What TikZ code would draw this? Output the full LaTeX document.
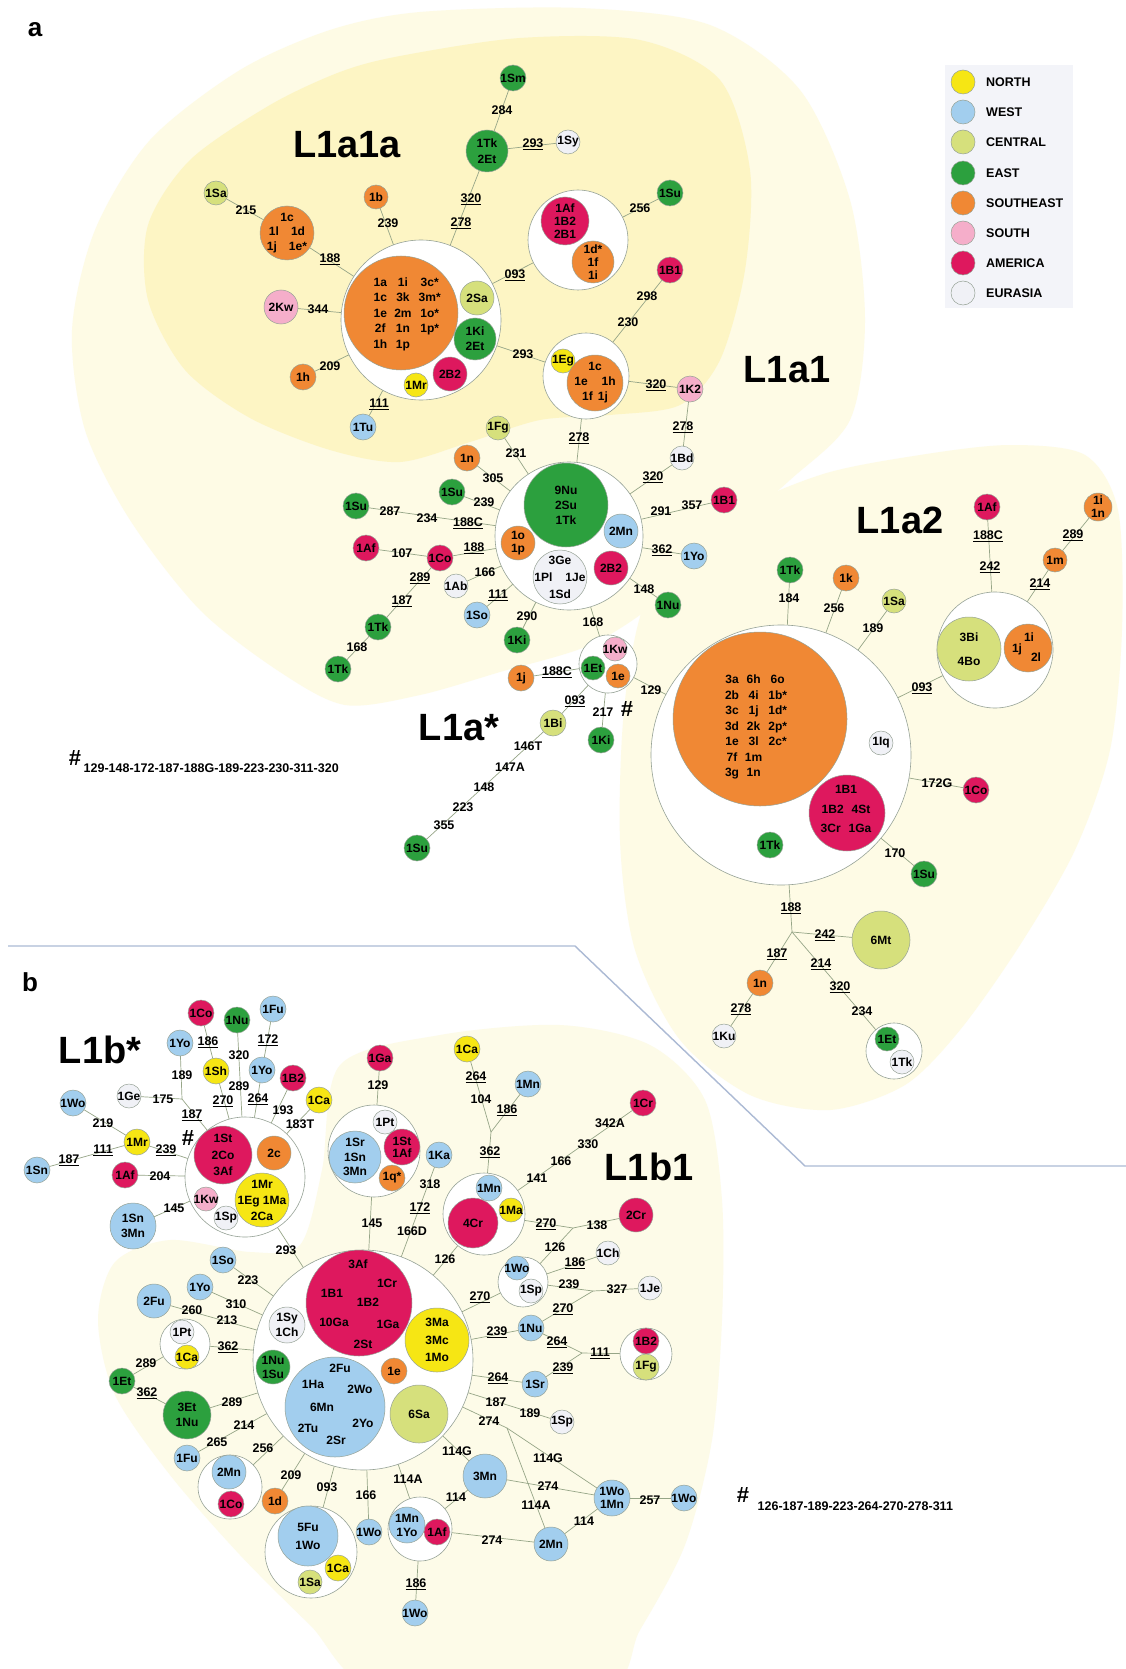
\documentclass[tikz,border=0pt]{standalone}
\usepackage{fontspec}
\setmainfont{Liberation Sans}
\pgfdeclarelayer{bg}
\pgfdeclarelayer{edges}
\pgfsetlayers{bg,edges,main}
\definecolor{cN}{RGB}{246,230,20}
\definecolor{cW}{RGB}{162,206,238}
\definecolor{cC}{RGB}{214,224,124}
\definecolor{cE}{RGB}{44,160,62}
\definecolor{cSE}{RGB}{240,136,52}
\definecolor{cS}{RGB}{245,174,202}
\definecolor{cA}{RGB}{222,24,94}
\definecolor{cEu}{RGB}{240,241,246}
\definecolor{edgeC}{RGB}{150,165,135}
\definecolor{ringC}{RGB}{150,162,150}
\definecolor{paleA}{RGB}{254,251,229}
\definecolor{deepA}{RGB}{253,245,196}
\definecolor{paleB}{RGB}{253,251,232}
\definecolor{sepC}{RGB}{172,186,212}
\definecolor{legbg}{RGB}{243,244,249}
\tikzset{
 hap/.style={circle, draw=ringC, line width=0.5pt, inner sep=0pt, outer sep=0pt},
 grp/.style={circle, draw=ringC, fill=white, line width=0.6pt, inner sep=0pt, outer sep=0pt},
 lbl/.style={inner sep=0pt, align=center, text=black},
 mut/.style={font=\fontsize{12.5}{13}\selectfont\bfseries, inner sep=0.5pt, text=black},
 edge/.style={draw=edgeC, line width=0.7pt},
 clade/.style={font=\fontsize{38}{38}\selectfont\bfseries, inner sep=0pt},
 txt/.style={font=\fontsize{12}{15.5}\selectfont\bfseries, inner sep=0pt, align=center},
 legt/.style={font=\fontsize{12.5}{13}\selectfont\bfseries, inner sep=0pt, anchor=west},
 hash/.style={font=\fontsize{22}{22}\selectfont\bfseries, inner sep=0pt},
}
\newcommand\hp[7][15]{\node[hap,fill=#6,minimum size=2*#5,label={[lbl,font=\fontsize{12}{#1}\selectfont\bfseries]center:{#7}}] (#2) at (#3,#4) {};}
\newcommand\gp[4]{\node[grp,minimum size=2*#4] (#1) at (#2,#3) {};}
\newcommand\mt[4]{\node[mut] (#1) at (#2,#3) {#4};}
\newcommand\um[1]{\underline{#1}}
\begin{document}
\begin{tikzpicture}[x=1pt,y=-1pt]
\useasboundingbox (0,0) rectangle (1126,1669);
\begin{pgfonlayer}{bg}
\fill[white] (0,0) rectangle (1126,1669);
\begin{scope}
\clip (0,0) rectangle (1126,1669);
\fill[paleA] plot[smooth cycle] coordinates {(420,12) (580,8) (710,25) (800,90) (850,200) (865,320) (850,420) (790,480) (720,540) (660,600) (590,645) (500,672) (420,695) (345,705) (280,672) (200,610) (130,520) (85,430) (72,330) (95,230) (150,140) (240,70) (330,30)};
\fill[paleA] plot[smooth cycle] coordinates {(650,590) (720,520) (820,475) (920,455) (1010,445) (1085,455) (1118,510) (1122,630) (1110,750) (1075,850) (1020,945) (960,1030) (905,1085) (830,1110) (750,1095) (680,1040) (635,950) (620,840) (625,700)};
\fill[deepA] plot[smooth cycle] coordinates {(400,56) (520,38) (640,40) (720,80) (750,170) (745,270) (720,360) (680,405) (610,415) (540,420) (470,442) (400,462) (330,450) (250,418) (185,370) (148,300) (148,225) (190,160) (270,105) (340,72)};
\fill[paleB] plot[smooth cycle] coordinates {(340,1065) (440,1035) (560,1025) (650,1045) (705,1100) (722,1200) (722,1320) (712,1440) (685,1545) (640,1630) (600,1690) (380,1690) (310,1625) (240,1555) (170,1475) (115,1395) (98,1320) (115,1262) (170,1240) (250,1252) (300,1245) (322,1170)};
\end{scope}
\draw[sepC, line width=1.4pt] (8,946) -- (575,946) -- (805,1166) -- (1126,1166);
\end{pgfonlayer}

% panel and clade labels
\node[font=\fontsize{26}{26}\selectfont\bfseries, inner sep=0pt] (pa) at (35,30) {a};
\node[font=\fontsize{26}{26}\selectfont\bfseries, inner sep=0pt] (pb) at (30,982) {b};
\node[clade] (cL1a1a) at (347,145) {L1a1a};
\node[clade] (cL1a1) at (787,370) {L1a1};
\node[clade] (cL1a2) at (900,520) {L1a2};
\node[clade] (cL1as) at (459,728) {L1a*};
\node[clade] (cL1bs) at (100,1050) {L1b*};
\node[clade] (cL1b1) at (649,1167) {L1b1};

% legend
\node[fill=legbg, minimum width=128, minimum height=243, inner sep=0pt] (leg) at (1009,186.5) {};
\node[hap,fill=cN,minimum size=24] (lg1) at (963,82) {};
\node[hap,fill=cW,minimum size=24] (lg2) at (963,112) {};
\node[hap,fill=cC,minimum size=24] (lg3) at (963,142) {};
\node[hap,fill=cE,minimum size=24] (lg4) at (963,173) {};
\node[hap,fill=cSE,minimum size=24] (lg5) at (963,203) {};
\node[hap,fill=cS,minimum size=24] (lg6) at (963,233) {};
\node[hap,fill=cA,minimum size=24] (lg7) at (963,263) {};
\node[hap,fill=cEu,minimum size=24] (lg8) at (963,293) {};
\node[legt] (lt1) at (986,82) {NORTH};
\node[legt] (lt2) at (986,112) {WEST};
\node[legt] (lt3) at (986,142) {CENTRAL};
\node[legt] (lt4) at (986,173) {EAST};
\node[legt] (lt5) at (986,203) {SOUTHEAST};
\node[legt] (lt6) at (986,233) {SOUTH};
\node[legt] (lt7) at (986,263) {AMERICA};
\node[legt] (lt8) at (986,293) {EURASIA};

% ===== part a: L1a1a =====
\gp{W1}{421}{320}{80}
\node[hap,fill=cSE,minimum size=114] (a1a) at (401,313) {};
\node[txt] (a1aT) at (407,314) {\begin{tabular}{@{}c@{\hspace{7pt}}c@{\hspace{7pt}}c@{}}1a&1i&3c*\\1c&3k&3m*\\1e&2m&1o*\\2f&1n&1p*\\1h&1p&\end{tabular}};
\hp{a2Sa}{477}{298}{17}{cC}{2Sa}
\hp{a1Ki}{475}{339}{21}{cE}{1Ki\\2Et}
\hp{a2B2}{450}{374}{17}{cA}{2B2}
\hp{a1Mr}{416}{385}{12}{cN}{1Mr}
\hp{a1Sa}{216}{193}{12}{cC}{1Sa}
\hp[14.5]{a1c}{287}{233}{27}{cSE}{1c\\1l\hspace{12pt}1d\\1j\hspace{12pt}1e*}
\hp{a1b}{376}{197}{12}{cSE}{1b}
\hp{a2Kw}{281}{307}{17}{cS}{2Kw}
\hp{a1h}{303}{377}{13}{cSE}{1h}
\hp{a1Tu}{363}{427}{13}{cW}{1Tu}
\hp{a1Sm}{513}{78}{13}{cE}{1Sm}
\hp[16]{a1Tk}{487}{151}{21}{cE}{1Tk\\2Et}
\hp{a1Sy}{568}{142}{12}{cEu}{1Sy}
\gp{W2}{578}{240}{50}
\hp[13]{a1Af}{565}{221}{24}{cA}{1Af\\1B2\\2B1}
\hp[13]{a1d}{593}{262}{21}{cSE}{1d*\\1f\\1i}
\hp{a1Su}{670}{193}{13}{cE}{1Su}
\hp{a1B1}{670}{270}{13}{cA}{1B1}
\gp{W3}{586}{376}{43}
\hp{a1Eg}{563}{361}{12}{cN}{1Eg}
\hp{a1c2}{595}{383}{28}{cSE}{1c\\1e\hspace{14pt}1h\\1f\hspace{5pt}1j}
\hp{a1K2}{690}{389}{13}{cS}{1K2}
\hp{a1Bd}{682}{458}{12}{cEu}{1Bd}

% ===== L1a =====
\gp{W4}{569}{536}{74}
\hp{a9Nu}{566}{505}{42}{cE}{9Nu\\2Su\\1Tk}
\hp{a2Mn}{621}{531}{17}{cW}{2Mn}
\hp[13]{a1o}{518}{543}{17}{cSE}{1o\\1p}
\hp[17]{a3Ge}{560}{577}{27}{cEu}{3Ge\\1Pl\hspace{13pt}1Je\\1Sd}
\hp{a2B2b}{611}{568}{17}{cA}{2B2}
\hp{a1Fg}{498}{428}{12}{cC}{1Fg}
\hp{a1n}{467}{458}{13}{cSE}{1n}
\hp{a1Su2}{452}{492}{13}{cE}{1Su}
\hp{a1Su3}{356}{506}{13}{cE}{1Su}
\hp{a1Af2}{366}{548}{13}{cA}{1Af}
\hp{a1Co}{440}{558}{13}{cA}{1Co}
\hp{a1Ab}{456}{586}{12}{cEu}{1Ab}
\hp{a1So}{477}{615}{13}{cW}{1So}
\hp{a1Ki2}{517}{640}{13}{cE}{1Ki}
\hp{a1Tk2}{378}{627}{13}{cE}{1Tk}
\hp{a1Tk3}{338}{669}{13}{cE}{1Tk}
\hp{a1B1b}{724}{500}{13}{cA}{1B1}
\hp{a1Yo}{694}{556}{13}{cW}{1Yo}
\hp{a1Nu}{668}{605}{13}{cE}{1Nu}

% ===== L1a* =====
\gp{W5}{608}{664}{29}
\hp{a1Kw}{615}{649}{12}{cS}{1Kw}
\hp{a1Et}{593}{668}{12}{cE}{1Et}
\hp{a1e}{618}{676}{12}{cSE}{1e}
\hp{a1j}{521}{678}{13}{cSE}{1j}
\hp{a1Ki3}{601}{740}{13}{cE}{1Ki}
\hp{a1Bi}{553}{723}{13}{cC}{1Bi}
\hp{a1Su4}{417}{848}{13}{cE}{1Su}

% ===== L1a2 =====
\gp{W6}{781}{755}{130}
\node[hap,fill=cSE,minimum size=174] (a3a) at (760,719) {};
\node[txt] (a3aT) at (756,727) {\begin{tabular}{@{}c@{\hspace{6pt}}c@{\hspace{6pt}}c@{}}3a&6h&6o\\2b&4i&1b*\\3c&1j&1d*\\3d&2k&2p*\\1e&3l&2c*\\7f&1m&\\3g&1n&\end{tabular}};
\hp{a1B1c}{847}{813}{38}{cA}{}
\node[txt,font=\fontsize{12}{19.5}\selectfont\bfseries] (a1B1cT) at (846,809) {1B1\\1B2\hspace{8pt}4St\\3Cr\hspace{8pt}1Ga};
\hp{a1Iq}{881}{743}{12}{cEu}{1Iq}
\hp{a1Tk4}{770}{845}{13}{cE}{1Tk}
\hp{a1Tk5}{790}{570}{13}{cE}{1Tk}
\hp{a1k}{846}{578}{13}{cSE}{1k}
\hp{a1Sa2}{894}{601}{12}{cC}{1Sa}
\gp{W7}{995}{650}{58}
\hp[24]{a3Bi}{969}{649}{32}{cC}{3Bi\\4Bo}
\hp{a1i}{1028}{648}{24}{cSE}{}
\node[txt] (a1iT1) at (1029,637) {1i};
\node[txt] (a1iT2) at (1017,649) {1j};
\node[txt] (a1iT3) at (1036,657) {2l};
\hp{a1Af3}{987}{507}{13}{cA}{1Af}
\hp{a1m}{1055}{560}{12}{cSE}{1m}
\hp[13]{a1in}{1098}{507}{14}{cSE}{1i\\1n}
\hp{a1Co2}{976}{790}{13}{cA}{1Co}
\hp{a1Su5}{924}{874}{13}{cE}{1Su}
\coordinate (J1) at (792,932);
\hp{a6Mt}{881}{940}{29}{cC}{6Mt}
\hp{a1n2}{760}{983}{13}{cSE}{1n}
\hp{a1Ku}{724}{1036}{12}{cEu}{1Ku}
\gp{W8}{894}{1051}{28}
\hp{a1Et2}{887}{1039}{12}{cE}{1Et}
\hp{a1Tk6}{902}{1062}{12}{cEu}{1Tk}

% mutation labels part a
\mt{m1}{246}{210}{215}
\mt{m2}{388}{223}{239}
\mt{m3}{330}{259}{\um{188}}
\mt{m4}{318}{309}{344}
\mt{m5}{330}{366}{209}
\mt{m6}{379}{404}{\um{111}}
\mt{m7}{471}{199}{\um{320}}
\mt{m8}{461}{223}{\um{278}}
\mt{m9}{502}{110}{284}
\mt{m10}{533}{144}{\um{293}}
\mt{m11}{515}{275}{\um{093}}
\mt{m12}{640}{208}{256}
\mt{m13}{523}{354}{293}
\mt{m14}{647}{296}{298}
\mt{m15}{628}{322}{230}
\mt{m16}{656}{385}{\um{320}}
\mt{m17}{683}{427}{\um{278}}
\mt{m18}{579}{438}{\um{278}}
\mt{m19}{653}{477}{\um{320}}
\mt{m20}{516}{453}{231}
\mt{m21}{493}{478}{305}
\mt{m22}{484}{502}{239}
\mt{m23}{390}{511}{287}
\mt{m24}{427}{518}{234}
\mt{m25}{468}{523}{\um{188C}}
\mt{m26}{474}{548}{\um{188}}
\mt{m27}{402}{553}{107}
\mt{m28}{485}{572}{166}
\mt{m29}{420}{578}{\um{289}}
\mt{m30}{402}{601}{\um{187}}
\mt{m31}{498}{595}{\um{111}}
\mt{m32}{527}{616}{290}
\mt{m33}{357}{647}{168}
\mt{m34}{661}{511}{291}
\mt{m35}{692}{505}{357}
\mt{m36}{662}{550}{\um{362}}
\mt{m37}{644}{589}{148}
\mt{m38}{593}{622}{168}
\mt{m39}{557}{672}{\um{188C}}
\mt{m40}{651}{690}{129}
\mt{m41}{575}{701}{\um{093}}
\mt{m42}{603}{712}{217}
\mt{m43}{528}{746}{146T}
\mt{m44}{510}{767}{147A}
\mt{m45}{484}{787}{148}
\mt{m46}{463}{807}{223}
\mt{m47}{444}{825}{355}
\mt{m48}{789}{598}{184}
\mt{m49}{834}{608}{256}
\mt{m50}{873}{628}{189}
\mt{m51}{922}{688}{\um{093}}
\mt{m52}{988}{536}{\um{188C}}
\mt{m53}{990}{567}{\um{242}}
\mt{m54}{1040}{584}{\um{214}}
\mt{m55}{1073}{535}{\um{289}}
\mt{m56}{937}{783}{172G}
\mt{m57}{895}{853}{170}
\mt{m58}{791}{908}{\um{188}}
\mt{m59}{825}{935}{\um{242}}
\mt{m60}{777}{954}{\um{187}}
\mt{m61}{821}{964}{\um{214}}
\mt{m62}{840}{987}{\um{320}}
\mt{m63}{862}{1011}{234}
\mt{m64}{741}{1009}{\um{278}}
\node[hash] (h1) at (627,709) {\#};
\node[hash] (h2) at (75,758) {\#};
\node[mut,anchor=west] (fn1) at (83,768) {129-148-172-187-188G-189-223-230-311-320};

% ===== part b: L1b* =====
\gp{W9}{245}{1177}{60}
\hp[16.5]{b1St}{223}{1155}{29}{cA}{1St\\2Co\\3Af}
\hp{b2c}{274}{1153}{17}{cSE}{2c}
\hp[16]{b1Mr}{262}{1200}{27}{cN}{1Mr\\1Eg 1Ma\\2Ca}
\hp{b1Kw}{206}{1199}{12}{cS}{1Kw}
\hp{b1Sp}{226}{1218}{12}{cEu}{1Sp}
\hp{b1Co}{201}{1013}{13}{cA}{1Co}
\hp{b1Nu}{237}{1020}{13}{cE}{1Nu}
\hp{b1Fu}{273}{1009}{13}{cW}{1Fu}
\hp{b1Yo}{180}{1043}{13}{cW}{1Yo}
\hp{b1Sh}{216}{1071}{13}{cN}{1Sh}
\hp{b1Yo2}{262}{1070}{13}{cW}{1Yo}
\hp{b1B2}{293}{1078}{13}{cA}{1B2}
\hp{b1Ca}{319}{1100}{13}{cN}{1Ca}
\hp{b1Ge}{129}{1096}{12}{cEu}{1Ge}
\coordinate (J2) at (182,1099);
\hp{b1Wo}{73}{1103}{13}{cW}{1Wo}
\hp{b1Mr2}{137}{1142}{13}{cN}{1Mr}
\hp{b1Sn}{37}{1170}{13}{cW}{1Sn}
\hp{b1Af}{125}{1175}{13}{cA}{1Af}
\hp{b1Sn3}{133}{1226}{23}{cW}{1Sn\\3Mn}

% ===== L1b1 =====
\gp{W11}{374}{1151}{46}
\hp{b1Pt}{385}{1122}{12}{cEu}{1Pt}
\hp[14.5]{b1Sr}{355}{1157}{26}{cW}{1Sr\\1Sn\\3Mn}
\hp[12]{b1St2}{402}{1147}{18}{cA}{1St\\1Af}
\hp{b1q}{392}{1178}{13}{cSE}{1q*}
\hp{b1Ka}{439}{1155}{13}{cW}{1Ka}
\hp{b1Ga}{380}{1058}{13}{cA}{1Ga}
\gp{W12}{484}{1214}{41}
\hp{b1Mn}{489}{1188}{13}{cW}{1Mn}
\hp{b1Ma}{511}{1210}{12}{cN}{1Ma}
\hp{b4Cr}{473}{1223}{25}{cA}{4Cr}
\hp{b1Ca2}{467}{1049}{13}{cN}{1Ca}
\hp{b1Mn2}{528}{1084}{13}{cW}{1Mn}
\coordinate (J3) at (491,1132);
\hp{b1Cr}{643}{1103}{13}{cA}{1Cr}
\coordinate (J4) at (573,1228);
\hp{b2Cr}{636}{1215}{17}{cA}{2Cr}
\gp{W13}{523}{1282}{25}
\hp{b1Wo2}{517}{1268}{12}{cW}{1Wo}
\hp{b1Sp2}{531}{1291}{12}{cEu}{1Sp}
\hp{b1Ch}{608}{1253}{12}{cEu}{1Ch}
\coordinate (J5) at (593,1291);
\hp{b1Je}{650}{1288}{12}{cEu}{1Je}
\hp{b1Nu2}{531}{1328}{13}{cW}{1Nu}
\coordinate (J6) at (582,1353);
\gp{W14}{646}{1354}{26}
\hp{b1B2b}{646}{1341}{13}{cA}{1B2}
\hp{b1Fg}{646}{1367}{13}{cC}{1Fg}
\hp{b1Sr2}{535}{1384}{13}{cW}{1Sr}
\hp{b1Sp3}{562}{1422}{12}{cEu}{1Sp}
\coordinate (J7) at (507,1428);
\hp{b3Mn}{485}{1476}{22}{cW}{3Mn}
\hp[13]{b1WoMn}{612}{1498}{18}{cW}{1Wo\\1Mn}
\hp{b1Wo3}{684}{1498}{13}{cW}{1Wo}
\hp{b2Mn}{551}{1544}{17}{cW}{2Mn}
\gp{W15}{420}{1529}{32}
\hp[14]{b1MnYo}{407}{1525}{18}{cW}{1Mn\\1Yo}
\hp{b1Af2}{437}{1532}{13}{cA}{1Af}
\hp{b1Wo4}{415}{1613}{13}{cW}{1Wo}
\gp{W10}{363}{1360}{110}
\hp{b3Af}{359}{1303}{53}{cA}{}
\node[txt] (tb1) at (358,1264) {3Af};
\node[txt] (tb2) at (387,1283) {1Cr};
\node[txt] (tb3) at (332,1293) {1B1};
\node[txt] (tb4) at (368,1302) {1B2};
\node[txt] (tb5) at (334,1322) {10Ga};
\node[txt] (tb6) at (388,1324) {1Ga};
\node[txt] (tb7) at (363,1344) {2St};
\hp[17.5]{b3Ma}{437}{1340}{32}{cN}{3Ma\\3Mc\\1Mo}
\hp{b1e}{394}{1371}{13}{cSE}{1e}
\hp{b6Sa}{419}{1414}{29}{cC}{6Sa}
\hp{b2Fu}{335}{1407}{50}{cW}{}
\node[txt] (tc1) at (340,1368) {2Fu};
\node[txt] (tc2) at (313,1384) {1Ha};
\node[txt] (tc3) at (360,1389) {2Wo};
\node[txt] (tc4) at (322,1407) {6Mn};
\node[txt] (tc5) at (308,1428) {2Tu};
\node[txt] (tc6) at (363,1423) {2Yo};
\node[txt] (tc7) at (336,1440) {2Sr};
\hp{b1Sy}{287}{1325}{18}{cEu}{1Sy\\1Ch}
\hp[14]{b1NuSu}{273}{1367}{17}{cE}{1Nu\\1Su}
\hp{b1So}{223}{1260}{13}{cW}{1So}
\hp{b1Yo3}{200}{1287}{13}{cW}{1Yo}
\hp{b2Fu2}{154}{1301}{17}{cW}{2Fu}
\gp{W18}{185}{1344}{25}
\hp{b1Pt2}{182}{1332}{12}{cEu}{1Pt}
\hp{b1Ca3}{187}{1357}{12}{cN}{1Ca}
\hp{b1Et}{122}{1381}{13}{cE}{1Et}
\hp{b3Et}{187}{1415}{24}{cE}{3Et\\1Nu}
\hp{b1Fu2}{187}{1458}{13}{cW}{1Fu}
\gp{W17}{230}{1487}{32}
\hp{b2Mn2}{229}{1472}{17}{cW}{2Mn}
\hp{b1Co2}{231}{1504}{13}{cA}{1Co}
\hp{b1d}{275}{1501}{13}{cSE}{1d}
\gp{W16}{311}{1552}{46}
\hp[18]{b5Fu}{308}{1536}{30}{cW}{5Fu\\1Wo}
\hp{b1Ca4}{338}{1568}{13}{cN}{1Ca}
\hp{b1Sa}{310}{1582}{12}{cC}{1Sa}
\hp{b1Wo5}{369}{1532}{13}{cW}{1Wo}

% mutation labels part b
\mt{n1}{208}{1042}{\um{186}}
\mt{n2}{268}{1040}{\um{172}}
\mt{n3}{239}{1055}{320}
\mt{n4}{182}{1075}{189}
\mt{n5}{239}{1086}{289}
\mt{n6}{163}{1099}{175}
\mt{n7}{223}{1101}{\um{270}}
\mt{n8}{258}{1099}{\um{264}}
\mt{n9}{283}{1110}{193}
\mt{n10}{300}{1124}{183T}
\mt{n11}{103}{1123}{219}
\mt{n12}{192}{1115}{\um{187}}
\mt{n13}{166}{1150}{\um{239}}
\mt{n14}{103}{1150}{\um{111}}
\mt{n15}{69}{1160}{\um{187}}
\mt{n16}{160}{1176}{204}
\mt{n17}{174}{1208}{145}
\mt{n18}{286}{1250}{293}
\mt{n19}{378}{1085}{129}
\mt{n20}{372}{1223}{145}
\mt{n21}{430}{1184}{318}
\mt{n22}{420}{1208}{\um{172}}
\mt{n23}{412}{1231}{166D}
\mt{n24}{476}{1077}{\um{264}}
\mt{n25}{481}{1099}{104}
\mt{n26}{507}{1110}{\um{186}}
\mt{n27}{490}{1152}{\um{362}}
\mt{n28}{610}{1123}{342A}
\mt{n29}{588}{1144}{330}
\mt{n30}{561}{1161}{166}
\mt{n31}{537}{1178}{141}
\mt{n32}{546}{1224}{\um{270}}
\mt{n33}{597}{1225}{138}
\mt{n34}{555}{1247}{126}
\mt{n35}{445}{1259}{126}
\mt{n36}{575}{1263}{\um{186}}
\mt{n37}{569}{1284}{239}
\mt{n38}{617}{1289}{327}
\mt{n39}{480}{1297}{\um{270}}
\mt{n40}{563}{1309}{\um{270}}
\mt{n41}{497}{1332}{\um{239}}
\mt{n42}{557}{1342}{\um{264}}
\mt{n43}{600}{1353}{\um{111}}
\mt{n44}{563}{1368}{\um{239}}
\mt{n45}{498}{1378}{\um{264}}
\mt{n46}{496}{1402}{187}
\mt{n47}{530}{1413}{189}
\mt{n48}{489}{1421}{274}
\mt{n49}{457}{1451}{114G}
\mt{n50}{548}{1458}{114G}
\mt{n51}{548}{1486}{274}
\mt{n52}{650}{1500}{257}
\mt{n53}{408}{1479}{114A}
\mt{n54}{456}{1497}{114}
\mt{n55}{536}{1505}{114A}
\mt{n56}{584}{1521}{114}
\mt{n57}{492}{1540}{274}
\mt{n58}{416}{1584}{\um{186}}
\mt{n59}{366}{1495}{166}
\mt{n60}{327}{1487}{093}
\mt{n61}{291}{1475}{209}
\mt{n62}{263}{1448}{256}
\mt{n63}{244}{1425}{214}
\mt{n64}{217}{1442}{265}
\mt{n65}{232}{1402}{289}
\mt{n66}{147}{1393}{\um{362}}
\mt{n67}{146}{1363}{289}
\mt{n68}{228}{1347}{\um{362}}
\mt{n69}{227}{1320}{213}
\mt{n70}{192}{1310}{260}
\mt{n71}{236}{1304}{310}
\mt{n72}{248}{1280}{223}
\node[hash] (h3) at (188,1138) {\#};
\node[hash] (h4) at (743,1495) {\#};
\node[mut,anchor=west] (fn2) at (757,1506) {126-187-189-223-264-270-278-311};

% ===== edges =====
\begin{pgfonlayer}{edges}
\draw[edge] (W1) -- (a1b);
\draw[edge] (W1) -- (a1c);
\draw[edge] (a1c) -- (a1Sa);
\draw[edge] (W1) -- (a2Kw);
\draw[edge] (W1) -- (a1h);
\draw[edge] (W1) -- (a1Tu);
\draw[edge] (W1) -- (a1Tk);
\draw[edge] (a1Tk) -- (a1Sm);
\draw[edge] (a1Tk) -- (a1Sy);
\draw[edge] (W1) -- (W2);
\draw[edge] (W2) -- (a1Su);
\draw[edge] (W1) -- (W3);
\draw[edge] (W3) -- (a1B1);
\draw[edge] (W3) -- (a1K2);
\draw[edge] (a1K2) -- (a1Bd);
\draw[edge] (a1Bd) -- (W4);
\draw[edge] (W3) -- (W4);
\draw[edge] (W4) -- (a1Fg);
\draw[edge] (W4) -- (a1n);
\draw[edge] (W4) -- (a1Su2);
\draw[edge] (W4) -- (a1Su3);
\draw[edge] (W4) -- (a1Co);
\draw[edge] (a1Co) -- (a1Af2);
\draw[edge] (a1Co) -- (a1Tk2);
\draw[edge] (a1Tk2) -- (a1Tk3);
\draw[edge] (W4) -- (a1Ab);
\draw[edge] (W4) -- (a1So);
\draw[edge] (W4) -- (a1Ki2);
\draw[edge] (W4) -- (a1B1b);
\draw[edge] (W4) -- (a1Yo);
\draw[edge] (W4) -- (a1Nu);
\draw[edge] (W4) -- (W5);
\draw[edge] (W5) -- (a1j);
\draw[edge] (W5) -- (a1Ki3);
\draw[edge] (W5) -- (W6);
\draw[edge] (W5) -- (a1Bi);
\draw[edge] (a1Bi) -- (a1Su4);
\draw[edge] (W6) -- (a1Tk5);
\draw[edge] (W6) -- (a1k);
\draw[edge] (W6) -- (a1Sa2);
\draw[edge] (W6) -- (W7);
\draw[edge] (W7) -- (a1Af3);
\draw[edge] (W7) -- (a1m);
\draw[edge] (a1m) -- (a1in);
\draw[edge] (W6) -- (a1Co2);
\draw[edge] (W6) -- (a1Su5);
\draw[edge] (W6) -- (J1);
\draw[edge] (J1) -- (a6Mt);
\draw[edge] (J1) -- (a1n2);
\draw[edge] (a1n2) -- (a1Ku);
\draw[edge] (J1) -- (W8);
% part b
\draw[edge] (W9) -- (b1Sh);
\draw[edge] (b1Sh) -- (b1Co);
\draw[edge] (W9) -- (b1Yo2);
\draw[edge] (b1Yo2) -- (b1Fu);
\draw[edge] (W9) -- (b1Nu);
\draw[edge] (W9) -- (b1B2);
\draw[edge] (W9) -- (b1Ca);
\draw[edge] (b1Yo) -- (J2);
\draw[edge] (b1Ge) -- (J2);
\draw[edge] (J2) -- (W9);
\draw[edge] (b1Wo) -- (b1Mr2);
\draw[edge] (b1Mr2) -- (W9);
\draw[edge] (b1Mr2) -- (b1Sn);
\draw[edge] (b1Af) -- (W9);
\draw[edge] (b1Sn3) -- (W9);
\draw[edge] (W9) -- (W10);
\draw[edge] (b1Ga) -- (W11);
\draw[edge] (W11) -- (W10);
\draw[edge] (b1Ka) -- (W10);
\draw[edge] (b1Ca2) -- (J3);
\draw[edge] (b1Mn2) -- (J3);
\draw[edge] (J3) -- (W12);
\draw[edge] (W12) -- (b1Cr);
\draw[edge] (W12) -- (J4);
\draw[edge] (J4) -- (b2Cr);
\draw[edge] (J4) -- (W13);
\draw[edge] (W12) -- (W10);
\draw[edge] (W13) -- (b1Ch);
\draw[edge] (W13) -- (W10);
\draw[edge] (W13) -- (J5);
\draw[edge] (J5) -- (b1Je);
\draw[edge] (J5) -- (b1Nu2);
\draw[edge] (b1Nu2) -- (W10);
\draw[edge] (b1Nu2) -- (J6);
\draw[edge] (J6) -- (W14);
\draw[edge] (J6) -- (b1Sr2);
\draw[edge] (b1Sr2) -- (W10);
\draw[edge] (W10) -- (b1Sp3);
\draw[edge] (W10) -- (J7);
\draw[edge] (J7) -- (b2Mn);
\draw[edge] (J7) -- (b1WoMn);
\draw[edge] (W10) -- (b3Mn);
\draw[edge] (b3Mn) -- (b1WoMn);
\draw[edge] (b3Mn) -- (W15);
\draw[edge] (W10) -- (W15);
\draw[edge] (W15) -- (b2Mn);
\draw[edge] (b2Mn) -- (b1WoMn);
\draw[edge] (b1WoMn) -- (b1Wo3);
\draw[edge] (W15) -- (b1Wo4);
\draw[edge] (W10) -- (b1Wo5);
\draw[edge] (W10) -- (W16);
\draw[edge] (W10) -- (b1d);
\draw[edge] (W10) -- (W17);
\draw[edge] (W10) -- (b1Fu2);
\draw[edge] (W10) -- (b3Et);
\draw[edge] (b3Et) -- (b1Et);
\draw[edge] (b1Et) -- (W18);
\draw[edge] (W18) -- (W10);
\draw[edge] (W10) -- (b2Fu2);
\draw[edge] (W10) -- (b1Yo3);
\draw[edge] (W10) -- (b1So);
\end{pgfonlayer}
\end{tikzpicture}
\end{document}
